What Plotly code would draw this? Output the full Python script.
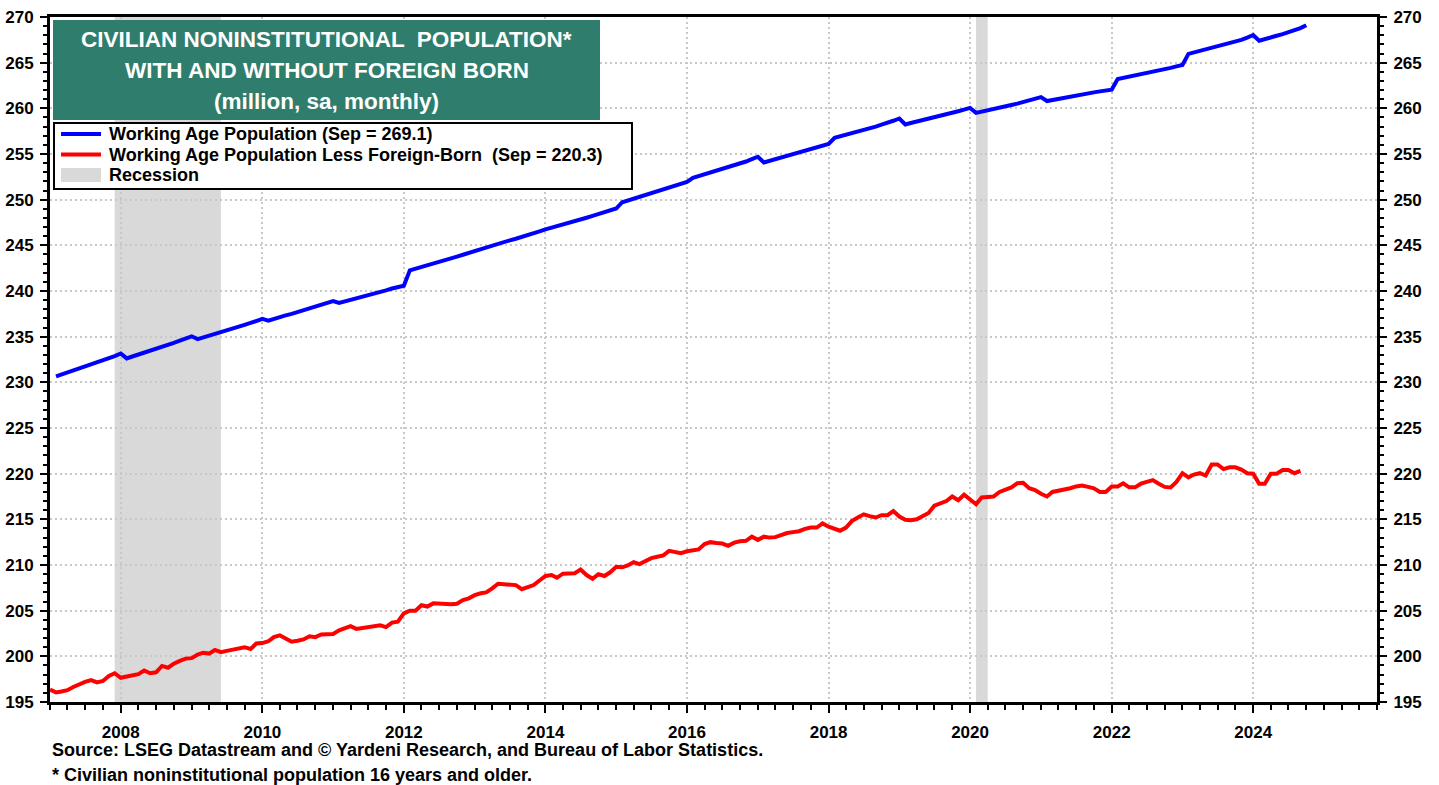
import pandas as pd
import plotly.graph_objects as go

# monthly, Jan 2007 - Sep 2024 (million, sa)
working_age = [
    230.65, 230.88, 231.10, 231.32, 231.52, 231.75, 231.96, 232.18, 232.40, 232.63, 232.88, 233.16,
    232.62, 232.83, 233.03, 233.23, 233.45, 233.66, 233.87, 234.09, 234.32, 234.56, 234.80, 235.04,
    234.74, 234.91, 235.09, 235.27, 235.45, 235.66, 235.87, 236.09, 236.30, 236.50, 236.72, 236.95,
    236.75, 236.96, 237.16, 237.33, 237.50, 237.70, 237.89, 238.10, 238.32, 238.53, 238.72, 238.90,
    238.70, 238.85, 239.00, 239.15, 239.31, 239.49, 239.67, 239.87, 240.07, 240.27, 240.44, 240.58,
    242.27, 242.44, 242.60, 242.76, 242.96, 243.15, 243.35, 243.57, 243.77, 243.97, 244.17, 244.35,
    244.66, 244.83, 245.00, 245.17, 245.35, 245.55, 245.72, 245.90, 246.10, 246.30, 246.52, 246.75,
    246.92, 247.08, 247.25, 247.43, 247.62, 247.83, 248.02, 248.22, 248.43, 248.63, 248.84, 249.03,
    249.72, 249.90, 250.08, 250.27, 250.46, 250.66, 250.86, 251.07, 251.29, 251.50, 251.72, 251.94,
    252.40, 252.58, 252.77, 252.97, 253.17, 253.37, 253.58, 253.78, 253.98, 254.18, 254.44, 254.70,
    254.08, 254.25, 254.42, 254.59, 254.77, 254.96, 255.13, 255.32, 255.52, 255.70, 255.90, 256.11,
    256.78, 256.93, 257.10, 257.27, 257.45, 257.63, 257.82, 258.00, 258.21, 258.40, 258.64, 258.89,
    258.24, 258.39, 258.54, 258.69, 258.85, 259.01, 259.18, 259.34, 259.51, 259.68, 259.85, 260.05,
    259.50, 259.62, 259.76, 259.90, 260.05, 260.20, 260.36, 260.52, 260.70, 260.88, 261.05, 261.22,
    260.80, 260.92, 261.04, 261.16, 261.28, 261.40, 261.52, 261.64, 261.75, 261.86, 261.96, 262.05,
    263.20, 263.32, 263.44, 263.56, 263.68, 263.82, 263.96, 264.11, 264.27, 264.43, 264.60, 264.75,
    265.96, 266.12, 266.28, 266.43, 266.58, 266.76, 266.95, 267.12, 267.30, 267.50, 267.75, 268.03,
    267.40, 267.60, 267.78, 267.95, 268.12, 268.30, 268.50, 268.78, 269.10,
]

less_foreign_born = [
    196.35, 196.05, 196.15, 196.30, 196.65, 196.95, 197.20, 197.40, 197.15, 197.30, 197.85, 198.15,
    197.65, 197.80, 197.95, 198.05, 198.45, 198.15, 198.25, 198.95, 198.75, 199.20, 199.50, 199.75,
    199.80, 200.20, 200.40, 200.30, 200.70, 200.45, 200.60, 200.75, 200.80, 201.00, 200.80, 201.40,
    201.45, 201.65, 202.10, 202.30, 201.95, 201.60, 201.70, 201.85, 202.20, 202.10, 202.40, 202.45,
    202.45, 202.85, 203.05, 203.30, 203.00, 203.10, 203.15, 203.35, 203.40, 203.20, 203.70, 203.80,
    204.70, 205.00, 205.00, 205.60, 205.45, 205.80, 205.75, 205.70, 205.70, 205.75, 206.15, 206.35,
    206.70, 206.90, 207.00, 207.45, 207.95, 207.90, 207.85, 207.80, 207.35, 207.55, 207.80, 208.30,
    208.80, 208.90, 208.60, 209.05, 209.05, 209.10, 209.50, 208.90, 208.50, 209.00, 208.80, 209.20,
    209.80, 209.75, 209.95, 210.30, 210.10, 210.45, 210.75, 210.90, 211.05, 211.55, 211.40, 211.30,
    211.50, 211.60, 211.70, 212.30, 212.50, 212.40, 212.35, 212.10, 212.45, 212.60, 212.65, 213.10,
    212.75, 213.10, 213.00, 213.05, 213.30, 213.50, 213.60, 213.70, 213.95, 214.10, 214.10, 214.55,
    214.20, 213.95, 213.75, 214.10, 214.80, 215.20, 215.55, 215.35, 215.20, 215.45, 215.45, 215.90,
    215.30, 214.95, 214.90, 215.00, 215.35, 215.70, 216.50, 216.70, 217.00, 217.50, 217.10, 217.70,
    217.20, 216.65, 217.40, 217.50, 217.50, 218.00, 218.30, 218.50, 218.95, 219.00, 218.40, 218.20,
    217.80, 217.50, 218.00, 218.10, 218.30, 218.40, 218.60, 218.70, 218.55, 218.40, 218.00, 218.00,
    218.60, 218.60, 218.95, 218.50, 218.50, 218.90, 219.10, 219.30, 218.90, 218.55, 218.50, 219.10,
    220.05, 219.60, 219.90, 220.05, 219.80, 221.00, 221.00, 220.50, 220.70, 220.70, 220.45, 220.05,
    220.00, 218.90, 218.90, 220.00, 220.00, 220.40, 220.40, 220.05, 220.30,
]

# blue series is drawn at month end, red at month start (as in the source chart)
blue_dates = pd.date_range("2007-02-01", periods=len(working_age), freq="MS")
red_dates = pd.date_range("2007-01-01", periods=len(less_foreign_born), freq="MS")

recessions = [("2007-12-01", "2009-06-01"), ("2020-02-01", "2020-04-01")]

title_lines = [
    "CIVILIAN NONINSTITUTIONAL  POPULATION*",
    "WITH AND WITHOUT FOREIGN BORN",
    "(million, sa, monthly)",
]
legend_labels = [
    "Working Age Population (Sep = 269.1)",
    "Working Age Population Less Foreign-Born  (Sep = 220.3)",
    "Recession",
]
footnotes = [
    "Source: LSEG Datastream and © Yardeni Research, and Bureau of Labor Statistics.",
    "* Civilian noninstitutional population 16 years and older.",
]

FONT = "Arial, 'Liberation Sans', sans-serif"
TEAL = "#2F7D6D"
BLUE = "#0000FF"
RED = "#FF0000"
RECESSION_GRAY = "#D9D9D9"
GRID = "#C8C8C8"

W, H = 1439, 785
M = dict(l=50, r=62, t=17, b=83)
PW, PH = W - M["l"] - M["r"], H - M["t"] - M["b"]


def px(x):
    """page pixel x -> paper x"""
    return (x - M["l"]) / PW


def py(y):
    """page pixel y -> paper y"""
    return (H - M["b"] - y) / PH


fig = go.Figure()
fig.add_trace(go.Scatter(x=blue_dates, y=working_age, mode="lines", name=legend_labels[0],
                         line=dict(color=BLUE, width=4)))
fig.add_trace(go.Scatter(x=red_dates, y=less_foreign_born, mode="lines", name=legend_labels[1],
                         line=dict(color=RED, width=4)))
# invisible trace so the right axis is drawn
fig.add_trace(go.Scatter(x=[None], y=[None], yaxis="y2", hoverinfo="skip"))

for start, end in recessions:
    fig.add_shape(type="rect", xref="x", yref="paper", x0=start, x1=end, y0=0, y1=1,
                  fillcolor=RECESSION_GRAY, line=dict(width=0), layer="below")

# title box
fig.add_shape(type="rect", xref="paper", yref="paper", x0=px(53), x1=px(600),
              y0=py(120), y1=py(20), fillcolor=TEAL, line=dict(width=0))
for i, line in enumerate(title_lines):
    fig.add_annotation(text=line, xref="paper", yref="paper", x=px(326.5), y=py(40 + i * 31),
                       xanchor="center", yanchor="middle", showarrow=False,
                       font=dict(family=FONT, size=22.5, color="white", weight="bold"))

# legend box, drawn by hand to match the original layout
fig.add_shape(type="rect", xref="paper", yref="paper", x0=px(54), x1=px(632),
              y0=py(189), y1=py(123), fillcolor="white", line=dict(color="black", width=2))
for yy, col in [(134, BLUE), (154.5, RED)]:
    fig.add_shape(type="line", xref="paper", yref="paper", x0=px(61), x1=px(101),
                  y0=py(yy), y1=py(yy), line=dict(color=col, width=4))
fig.add_shape(type="rect", xref="paper", yref="paper", x0=px(61), x1=px(101),
              y0=py(182), y1=py(168), fillcolor=RECESSION_GRAY, line=dict(width=0))
for label, yy in zip(legend_labels, [134, 154.5, 175]):
    fig.add_annotation(text=label, xref="paper", yref="paper", x=px(107), y=py(yy),
                       xanchor="left", yanchor="middle", showarrow=False,
                       font=dict(family=FONT, size=18, color="black", weight="bold"))

for i, note in enumerate(footnotes):
    fig.add_annotation(text=note, xref="paper", yref="paper", x=px(50), y=py(750 + i * 25),
                       xanchor="left", yanchor="middle", showarrow=False,
                       font=dict(family=FONT, size=18, color="black", weight="bold"))

tickfont = dict(family=FONT, size=17, color="black", weight="bold")
yaxis_common = dict(
    range=[195, 270], dtick=5, tick0=195, ticks="outside", ticklen=7, tickwidth=2,
    tickcolor="black", tickfont=tickfont, ticklabelstandoff=3, automargin=False,
    showline=True, linecolor="black", linewidth=3,
    minor=dict(dtick=1, ticks="outside", ticklen=4, tickwidth=1.5, tickcolor="black", showgrid=False),
    zeroline=False, fixedrange=True,
)

fig.update_layout(
    width=W, height=H, margin=M,
    paper_bgcolor="white", plot_bgcolor="white",
    font=dict(family=FONT, color="black"),
    showlegend=False,
    xaxis=dict(
        type="date", range=["2007-01-01", "2025-10-01"],
        tick0="2008-01-01", dtick="M24", tickformat="%Y",
        ticks="outside", ticklen=8, tickwidth=2, tickcolor="black", tickfont=tickfont,
        ticklabelstandoff=5, automargin=False,
        showline=True, linecolor="black", linewidth=3, mirror=True,
        showgrid=True, gridcolor=GRID, griddash="2px,3px", gridwidth=1.5,
        minor=dict(dtick="M3", ticks="outside", ticklen=5, tickwidth=1.5, tickcolor="black", showgrid=False),
        zeroline=False, fixedrange=True,
    ),
    yaxis=dict(side="left", showgrid=True, gridcolor=GRID, griddash="2px,3px", gridwidth=1.5,
               **yaxis_common),
    yaxis2=dict(side="right", overlaying="y", showgrid=False, **yaxis_common),
)

fig.write_html("out.html", config={"displayModeBar": False},
               post_script="document.body.style.margin='0';")
